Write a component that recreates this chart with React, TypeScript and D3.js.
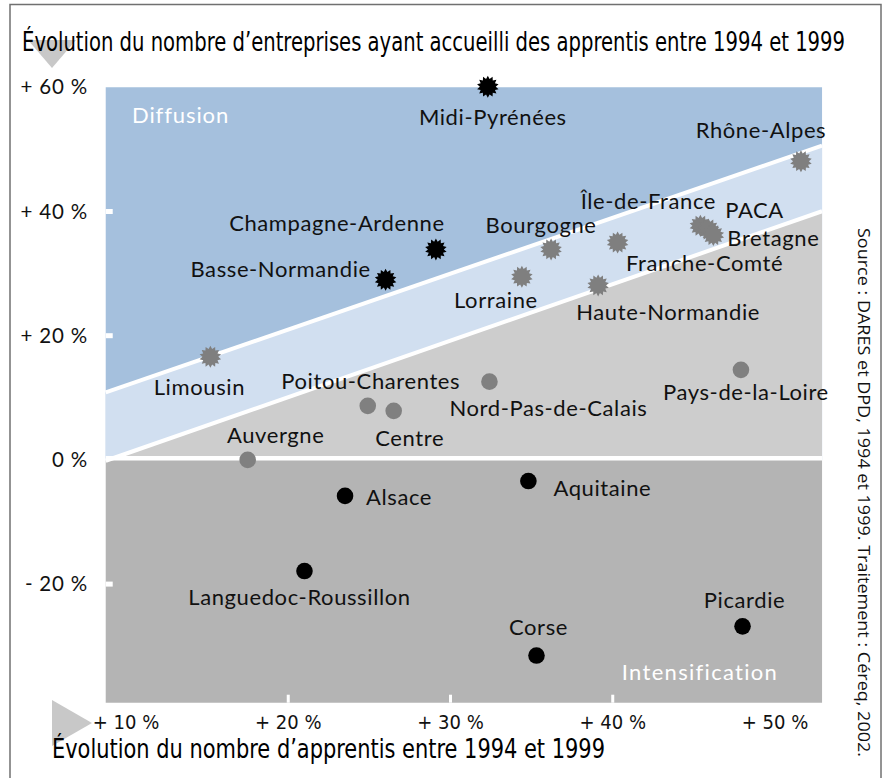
import React from "react";
import * as d3 from "d3";

// ---------- data ----------
const regions = [
  "Midi-Pyrénées", "Champagne-Ardenne", "Basse-Normandie",
  "Limousin", "Lorraine", "Bourgogne", "Franche-Comté", "Haute-Normandie",
  "Île-de-France", "PACA", "Bretagne", "Rhône-Alpes",
  "Pays-de-la-Loire", "Nord-Pas-de-Calais", "Poitou-Charentes", "Centre", "Auvergne",
  "Alsace", "Aquitaine", "Languedoc-Roussillon", "Corse", "Picardie",
];
// growth in number of apprentices 1994-1999 (%)
const apprentis = [
  32.3, 29.1, 26.0,
  15.2, 34.4, 36.2, 40.3, 39.1,
  45.4, 45.9, 46.2, 51.6,
  47.9, 32.4, 24.9, 26.5, 17.5,
  23.5, 34.8, 21.0, 35.3, 48.0,
];
// growth in number of firms hosting apprentices 1994-1999 (%)
const entreprises = [
  60.1, 33.9, 29.0,
  16.6, 29.5, 33.9, 35.0, 28.1,
  37.7, 37.1, 36.2, 48.1,
  14.5, 12.6, 8.7, 7.9, 0.0,
  -5.8, -3.4, -17.9, -31.5, -26.8,
];
// marker groups
const groups = [
  "starBlack", "starBlack", "starBlack",
  "starGray", "starGray", "starGray", "starGray", "starGray",
  "starGray", "starGray", "starGray", "starGray",
  "dotGray", "dotGray", "dotGray", "dotGray", "dotGray",
  "dotBlack", "dotBlack", "dotBlack", "dotBlack", "dotBlack",
];
const xTicks = [10, 20, 30, 40, 50];
const yTicks = [60, 40, 20, 0, -20];
const xTickLabels = ["+ 10 %", "+ 20 %", "+ 30 %", "+ 40 %", "+ 50 %"];
const yTickLabels = ["+ 60 %", "+ 40 %", "+ 20 %", "0 %", "- 20 %"];
// zone boundaries: y = a*x + b
const upperLine = { a: 0.9, b: 3.0 };
const lowerLine = { a: 0.91, b: -8.1 };

const title = "Évolution du nombre d’entreprises ayant accueilli des apprentis entre 1994 et 1999";
const xTitle = "Évolution du nombre d’apprentis entre 1994 et 1999";
const source = "Source : DARES et DPD, 1994 et 1999. Traitement : Céreq, 2002.";

// ---------- layout (label offsets in px relative to marker) ----------
const labelOffsets: Record<string, [number, number, string]> = {
  "Midi-Pyrénées": [5, 31, "middle"],
  "Champagne-Ardenne": [-99, -26, "middle"],
  "Basse-Normandie": [-105, -10, "middle"],
  "Limousin": [-11, 31, "middle"],
  "Lorraine": [-26, 24, "middle"],
  "Bourgogne": [-10, -24, "middle"],
  "Franche-Comté": [87, 21, "middle"],
  "Haute-Normandie": [70, 27, "middle"],
  "Île-de-France": [-52, -24, "middle"],
  "PACA": [46, -19, "middle"],
  "Bretagne": [60, 3, "middle"],
  "Rhône-Alpes": [-40, -31, "middle"],
  "Pays-de-la-Loire": [5, 23, "middle"],
  "Nord-Pas-de-Calais": [59, 27, "middle"],
  "Poitou-Charentes": [3, -24, "middle"],
  "Centre": [16, 28, "middle"],
  "Auvergne": [28, -24, "middle"],
  "Alsace": [21, 2, "start"],
  "Aquitaine": [25, 7, "start"],
  "Languedoc-Roussillon": [-5, 26, "middle"],
  "Corse": [2, -28, "middle"],
  "Picardie": [2, -26, "middle"],
};

const W = 888;
const H = 778;
const X_MIN = 8.75, X_MAX = 52.9, Y_MIN = -39.1, Y_MAX = 60;

const x = d3.scaleLinear().domain([10, 50]).range([126, 775]);
const y = d3.scaleLinear().domain([-20, 60]).range([584.1, 87.3]);

const starType = {
  draw(context: any, size: number) {
    const R = Math.sqrt(size / Math.PI);
    const r = R * 0.72;
    const n = 14;
    for (let i = 0; i < n * 2; i++) {
      const rad = i % 2 === 0 ? R : r;
      const ang = (Math.PI * i) / n - Math.PI / 2;
      const px = rad * Math.cos(ang);
      const py = rad * Math.sin(ang);
      if (i === 0) context.moveTo(px, py);
      else context.lineTo(px, py);
    }
    context.closePath();
  },
};
const starPath = d3.symbol().type(starType as any).size(Math.PI * 11 * 11)() as string;

const LABEL_FONT = "Lato, 'Open Sans', sans-serif";
const COND_FONT = "'Liberation Sans Narrow', 'DejaVu Sans Condensed', 'Roboto Condensed', sans-serif";

export default function App() {
  const f = (l: { a: number; b: number }, xv: number) => l.a * xv + l.b;
  const line = d3.line<[number, number]>().x((d) => x(d[0])).y((d) => y(d[1]));

  const xZeroLower = -lowerLine.b / lowerLine.a;
  const darkBlue: [number, number][] = [
    [X_MIN, 0], [X_MAX, 0], [X_MAX, Y_MAX], [X_MIN, Y_MAX],
  ];
  const lightBlue: [number, number][] = [
    [X_MIN, 0], [X_MAX, 0], [X_MAX, f(upperLine, X_MAX)], [X_MIN, f(upperLine, X_MIN)],
  ];
  const lightGray: [number, number][] = [
    [Math.max(X_MIN, xZeroLower), 0], [X_MAX, 0], [X_MAX, f(lowerLine, X_MAX)],
  ];
  const darkGray: [number, number][] = [
    [X_MIN, Y_MIN], [X_MAX, Y_MIN], [X_MAX, 0], [X_MIN, 0],
  ];

  const points = regions.map((name, i) => ({
    name,
    px: x(apprentis[i]),
    py: y(entreprises[i]),
    group: groups[i],
  }));

  return (
    <svg
      width={W}
      height={H}
      viewBox={`0 0 ${W} ${H}`}
      style={{ position: "absolute", left: 0, top: 0, background: "#fff" }}
    >
      {/* frame */}
      <rect x={10} y={4.5} width={871} height={800} fill="none" stroke="#707070" strokeWidth={1.5} />

      {/* axis arrows */}
      <polygon points="28,40 76,40 52,68" fill="#c8c8c8" />
      <polygon points="52,700 52,746 92,723" fill="#c8c8c8" />

      {/* title */}
      <text x={22} y={51} fontFamily={COND_FONT} fontSize={26} fill="#000" textLength={823} lengthAdjust="spacingAndGlyphs">
        {title}
      </text>

      {/* zones */}
      <path d={line(darkBlue) + "Z"} fill="#a5c0dd" />
      <path d={line(lightBlue) + "Z"} fill="#d1dff0" />
      <path d={line(lightGray) + "Z"} fill="#cdcdcd" />
      <path d={line(darkGray) + "Z"} fill="#b4b4b4" />

      {/* white boundary lines */}
      <path d={line([[X_MIN, f(upperLine, X_MIN)], [X_MAX, f(upperLine, X_MAX)]])!} stroke="#fff" strokeWidth={4} fill="none" />
      <path d={line([[X_MIN, f(lowerLine, X_MIN)], [X_MAX, f(lowerLine, X_MAX)]])!} stroke="#fff" strokeWidth={4} fill="none" />
      <path d={line([[X_MIN, 0.25], [X_MAX, 0.25]])!} stroke="#fff" strokeWidth={4.5} fill="none" />

      {/* white tick marks */}
      {yTicks.filter((t) => t !== 0 && t !== 60).map((t) => (
        <rect key={"yt" + t} x={x(X_MIN)} y={y(t) - 2.5} width={7} height={5} fill="#fff" />
      ))}
      {xTicks.filter((t) => t !== 10 && t !== 50).map((t) => (
        <rect key={"xt" + t} x={x(t) - 1.5} y={y(Y_MIN) - 8} width={3} height={8} fill="#fff" />
      ))}

      {/* tick labels */}
      {yTicks.map((t, i) => (
        <text key={"yl" + t} x={88} y={y(t) + 7} textAnchor="end" fontFamily={LABEL_FONT} fontSize={20.5} letterSpacing={0.8} fill="#111">
          {yTickLabels[i]}
        </text>
      ))}
      {xTicks.map((t, i) => (
        <text key={"xl" + t} x={x(t)} y={729} textAnchor="middle" fontFamily={COND_FONT} fontSize={20} fill="#111">
          {xTickLabels[i]}
        </text>
      ))}

      {/* x axis title */}
      <text x={52} y={758} fontFamily={COND_FONT} fontSize={26} fill="#000" textLength={553} lengthAdjust="spacingAndGlyphs">
        {xTitle}
      </text>

      {/* zone names */}
      <text x={132} y={123} fontFamily={LABEL_FONT} fontSize={22} letterSpacing={0.9} fill="#fff">Diffusion</text>
      <text x={700} y={680} textAnchor="middle" fontFamily={LABEL_FONT} fontSize={22} letterSpacing={1.3} fill="#fff">Intensification</text>

      {/* markers */}
      {points.map((p) =>
        p.group.startsWith("star") ? (
          <path
            key={"m" + p.name}
            d={starPath}
            transform={`translate(${p.px},${p.py})`}
            fill={p.group === "starBlack" ? "#000" : "#7f7f7f"}
          />
        ) : (
          <circle
            key={"m" + p.name}
            cx={p.px}
            cy={p.py}
            r={8.3}
            fill={p.group === "dotBlack" ? "#000" : "#808080"}
          />
        )
      )}

      {/* labels */}
      {points.map((p) => {
        const [dx, dy, anchor] = labelOffsets[p.name];
        return (
          <text
            key={"l" + p.name}
            x={p.px + dx}
            y={p.py + dy + 7.5}
            textAnchor={anchor as any}
            fontFamily={LABEL_FONT}
            fontSize={22}
            letterSpacing={0.6}
            fill="#111"
          >
            {p.name}
          </text>
        );
      })}

      {/* source */}
      <text
        transform="translate(858,228) rotate(90)"
        x={0}
        y={0}
        fontFamily="'Open Sans', 'DejaVu Sans', sans-serif"
        fontSize={16.5}
        fill="#111"
        textLength={529}
        lengthAdjust="spacingAndGlyphs"
      >
        {source}
      </text>
    </svg>
  );
}
